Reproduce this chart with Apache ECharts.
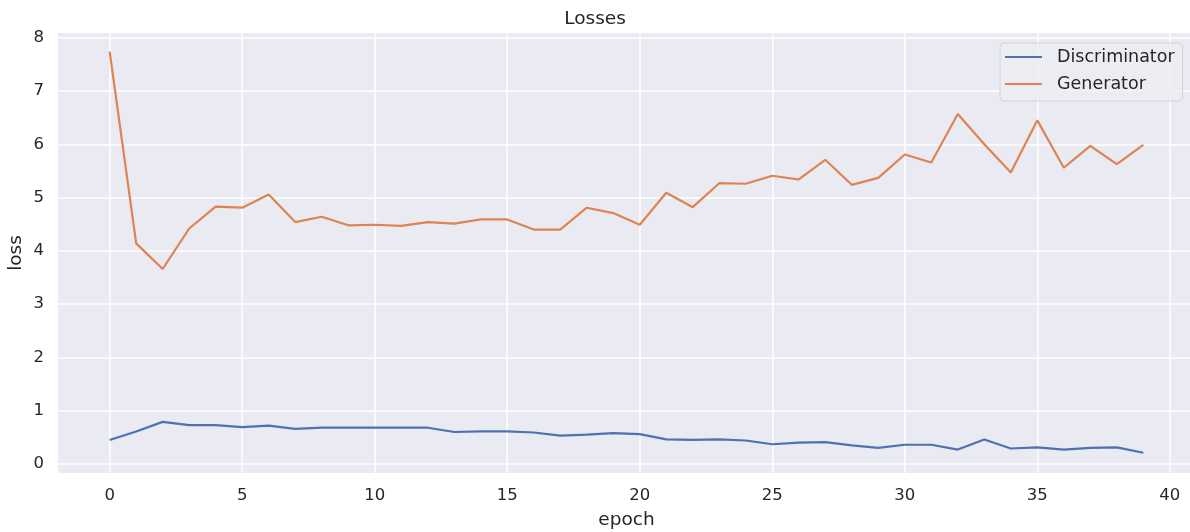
<!DOCTYPE html>
<html>
<head>
  <meta charset="utf-8">
  <title>Losses</title>
  <script src="https://cdn.jsdelivr.net/npm/echarts@6/dist/echarts.min.js"></script>
  <style>
    body { margin: 0; background: #fff; }
    #chart { width: 1190px; height: 532px; }
  </style>
</head>
<body>
  <div id="chart"></div>
  <script>
    // per-epoch losses
    var epochs = [];
    for (var i = 0; i < 40; i++) epochs.push(i);
    var discriminator = [0.45, 0.61, 0.79, 0.73, 0.73, 0.69, 0.72, 0.66, 0.68, 0.68,
      0.68, 0.68, 0.68, 0.60, 0.61, 0.61, 0.59, 0.53, 0.55, 0.58,
      0.56, 0.46, 0.45, 0.46, 0.44, 0.37, 0.40, 0.41, 0.35, 0.30,
      0.36, 0.36, 0.27, 0.46, 0.29, 0.31, 0.27, 0.30, 0.31, 0.21];
    var generator = [7.74, 4.14, 3.66, 4.42, 4.83, 4.81, 5.06, 4.54, 4.64, 4.48,
      4.49, 4.47, 4.54, 4.51, 4.59, 4.59, 4.40, 4.40, 4.81, 4.71,
      4.49, 5.09, 4.82, 5.27, 5.26, 5.41, 5.34, 5.71, 5.24, 5.37,
      5.81, 5.66, 6.57, 6.00, 5.47, 6.45, 5.56, 5.97, 5.63, 5.99];
    var xTicks = [0, 5, 10, 15, 20, 25, 30, 35, 40];
    var yTicks = [0, 1, 2, 3, 4, 5, 6, 7, 8];

    var font = "'DejaVu Sans', sans-serif";
    var textColor = '#262626';
    var lineIcon = 'path://M0,0 L40,0 L40,2 L0,2 Z';

    function pairs(ys) {
      return ys.map(function (v, i) { return [epochs[i], v]; });
    }

    var chart = echarts.init(document.getElementById('chart'));
    var option = {
      animation: false,
      backgroundColor: '#ffffff',
      title: {
        text: 'Losses',
        left: 'center',
        top: 5,
        textStyle: { fontFamily: font, fontSize: 18.5, fontWeight: 'normal', color: textColor }
      },
      grid: {
        left: 58, right: -5, top: 33, bottom: 59,
        outerBoundsMode: 'none',
        containLabel: false,
        show: true, backgroundColor: '#eaeaf2', borderWidth: 0
      },
      legend: {
        orient: 'vertical',
        left: 1000,
        top: 43,
        padding: [4, 8, 7, 5],
        icon: lineIcon,
        itemWidth: 37,
        itemHeight: 2,
        itemGap: 7,
        backgroundColor: 'rgba(236,236,243,0.85)',
        borderColor: '#d4d4d8',
        borderWidth: 1,
        borderRadius: 4,
        textStyle: {
          fontFamily: font, fontSize: 17.5, color: textColor,
          lineHeight: 20, padding: [0, 0, 0, 10]
        },
        data: ['Discriminator', 'Generator']
      },
      xAxis: {
        type: 'value',
        min: -1.95,
        max: 40.95,
        name: 'epoch',
        nameLocation: 'middle',
        nameGap: 38,
        nameMoveOverlap: false,
        nameTextStyle: { fontFamily: font, fontSize: 18.5, color: textColor },
        axisLine: { show: false },
        axisTick: { show: false, customValues: xTicks },
        axisLabel: {
          customValues: xTicks,
          fontFamily: font, fontSize: 16.5, color: textColor, margin: 14
        },
        splitLine: { show: true, lineStyle: { color: '#ffffff', width: 1.5 } }
      },
      yAxis: {
        type: 'value',
        min: -0.17,
        max: 8.09,
        name: 'loss',
        nameLocation: 'middle',
        nameGap: 32,
        nameMoveOverlap: false,
        nameTextStyle: { fontFamily: font, fontSize: 18.5, color: textColor },
        axisLine: { show: false },
        axisTick: { show: false, customValues: yTicks },
        axisLabel: {
          customValues: yTicks,
          fontFamily: font, fontSize: 16.5, color: textColor, margin: 14
        },
        splitLine: { show: true, lineStyle: { color: '#ffffff', width: 1.5 } }
      },
      series: [
        {
          name: 'Discriminator',
          type: 'line',
          data: pairs(discriminator),
          showSymbol: false,
          symbol: 'none',
          color: '#4c72b0',
          lineStyle: { width: 2.2, color: '#4c72b0' }
        },
        {
          name: 'Generator',
          type: 'line',
          data: pairs(generator),
          showSymbol: false,
          symbol: 'none',
          color: '#dd8452',
          lineStyle: { width: 2.2, color: '#dd8452' }
        }
      ]
    };
    chart.setOption(option);
  </script>
</body>
</html>
